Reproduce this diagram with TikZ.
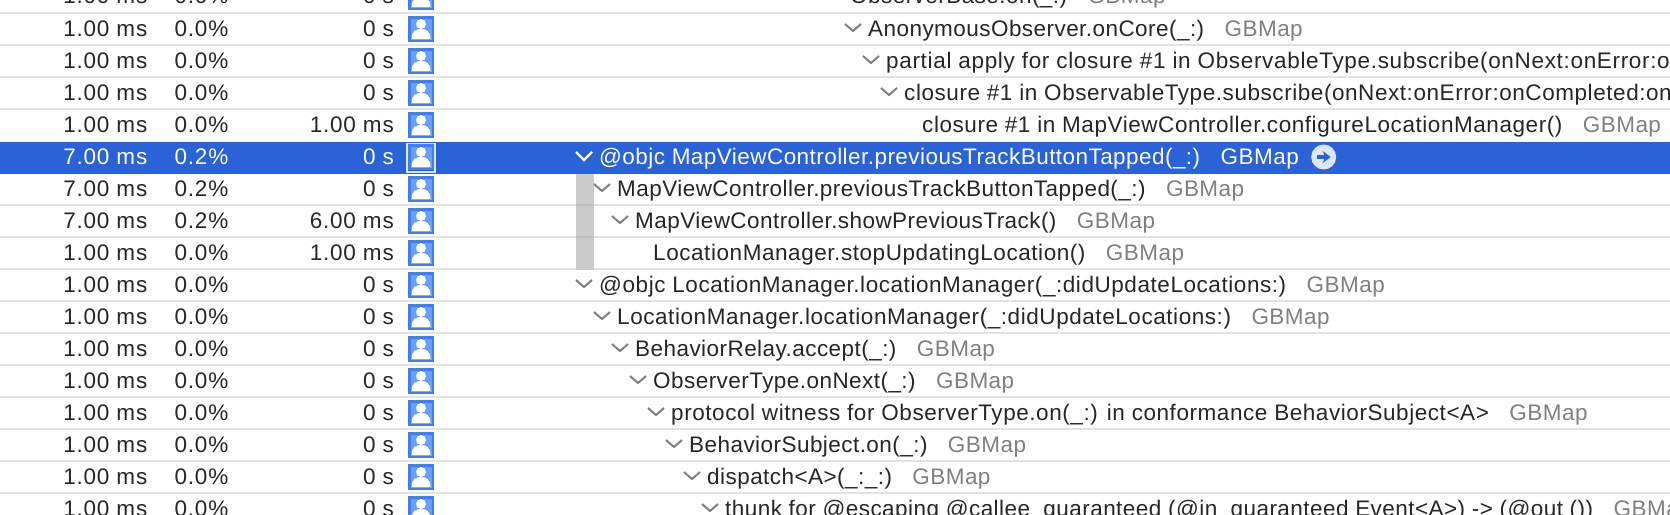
\documentclass[tikz,border=0pt]{standalone}
\usepackage{fontspec}
\setmainfont[LetterSpace=2]{Liberation Sans}
\usepackage{xcolor}
\usetikzlibrary{positioning}
\usetikzlibrary{arrows.meta}
\definecolor{rowsel}{HTML}{2A62D8}
\definecolor{rowline}{HTML}{E3E3E3}
\definecolor{bandgray}{HTML}{CBCBCB}
\definecolor{bandline}{HTML}{BFBFBF}
\definecolor{inkdark}{HTML}{262626}
\definecolor{libgray}{HTML}{808080}
\definecolor{iconblue}{HTML}{3F7DF2}
\definecolor{iconinner}{HTML}{6E9DF8}
\definecolor{iconpale}{HTML}{DCE8FC}

\tikzset{
  num/.style={anchor=base east,inner sep=0pt,text=inkdark,font=\fontsize{22.5}{25}\selectfont\addfontfeature{LetterSpace=3.5}},
  sym/.style={anchor=base west,inner sep=0pt,text=inkdark,font=\fontsize{22.5}{25}\selectfont},
  symwide/.style={sym,font=\fontsize{22.5}{25}\selectfont\addfontfeature{LetterSpace=2.5}},
  symwider/.style={sym,font=\fontsize{22.5}{25}\selectfont\addfontfeature{LetterSpace=3}},
  lib/.style={anchor=base west,inner sep=0pt,text=libgray,font=\fontsize{22.5}{25}\selectfont},
  seprule/.style={rowline,line width=2pt},
  chev/.style={libgray,line width=2pt},
  chevsel/.style={white,line width=2.4pt},
  usericon/.pic={
    \fill[iconblue] (-13,-13) rectangle (13,13);
    \fill[iconinner] (-10.5,-10.5) rectangle (10.5,10.5);
    \fill[white] (0,-5) circle (5);
    \fill[white] (-9.5,10) .. controls (-9.5,2) and (-5,0) .. (0,0) .. controls (5,0) and (9.5,2) .. (9.5,10) -- cycle;
  }
}

\begin{document}
\begin{tikzpicture}[x=1pt,y=-1pt]
  \useasboundingbox (0,0) rectangle (1670,514);
  \clip (0,0) rectangle (1670,514);

  % row rules
  \draw[seprule] (0,12.7) -- (1670,12.7);
  \draw[seprule] (0,44.7) -- (1670,44.7);
  \draw[seprule] (0,76.7) -- (1670,76.7);
  \draw[seprule] (0,108.7) -- (1670,108.7);
  \draw[seprule] (0,204.7) -- (1670,204.7);
  \draw[seprule] (0,236.7) -- (1670,236.7);
  \draw[seprule] (0,268.7) -- (1670,268.7);
  \draw[seprule] (0,300.7) -- (1670,300.7);
  \draw[seprule] (0,332.7) -- (1670,332.7);
  \draw[seprule] (0,364.7) -- (1670,364.7);
  \draw[seprule] (0,396.7) -- (1670,396.7);
  \draw[seprule] (0,428.7) -- (1670,428.7);
  \draw[seprule] (0,460.7) -- (1670,460.7);
  \draw[seprule] (0,492.7) -- (1670,492.7);

  % selection and its gray band
  \fill[rowsel] (0,141.7) rectangle (1670,174);
  \fill[bandgray] (576,174) rectangle (594,270);
  \draw[bandline,line width=2pt] (576,204.7) -- (594,204.7);
  \draw[bandline,line width=2pt] (576,236.7) -- (594,236.7);
  \draw[iconpale,line width=2pt] (407,143.5) rectangle (435,171.5);

  % numbers and icons
  \path (147.5,4) node (ta) [num] {1.00 ms} ++(81,0) node (pa) [num] {0.0\%} ++(165.5,0) node (sa) [num] {0 s} +(27,-7) pic {usericon};
  \path (147.5,36) node (tb) [num] {1.00 ms} ++(81,0) node (pb) [num] {0.0\%} ++(165.5,0) node (sb) [num] {0 s} +(27,-7) pic {usericon};
  \path (147.5,68) node (tc) [num] {1.00 ms} ++(81,0) node (pc) [num] {0.0\%} ++(165.5,0) node (sc) [num] {0 s} +(27,-7) pic {usericon};
  \path (147.5,100) node (td) [num] {1.00 ms} ++(81,0) node (pd) [num] {0.0\%} ++(165.5,0) node (sd) [num] {0 s} +(27,-7) pic {usericon};
  \path (147.5,132) node (te) [num] {1.00 ms} ++(81,0) node (pe) [num] {0.0\%} ++(165.5,0) node (se) [num] {1.00 ms} +(27,-7) pic {usericon};
  \path (147.5,164) node (tf) [num,text=white] {7.00 ms} ++(81,0) node (pf) [num,text=white] {0.2\%} ++(165.5,0) node (sf) [num,text=white] {0 s} +(27,-7) pic {usericon};
  \path (147.5,196) node (tg) [num] {7.00 ms} ++(81,0) node (pg) [num] {0.2\%} ++(165.5,0) node (sg) [num] {0 s} +(27,-7) pic {usericon};
  \path (147.5,228) node (th) [num] {7.00 ms} ++(81,0) node (ph) [num] {0.2\%} ++(165.5,0) node (sh) [num] {6.00 ms} +(27,-7) pic {usericon};
  \path (147.5,260) node (ti) [num] {1.00 ms} ++(81,0) node (pi) [num] {0.0\%} ++(165.5,0) node (si) [num] {1.00 ms} +(27,-7) pic {usericon};
  \path (147.5,292) node (tj) [num] {1.00 ms} ++(81,0) node (pj) [num] {0.0\%} ++(165.5,0) node (sj) [num] {0 s} +(27,-7) pic {usericon};
  \path (147.5,324) node (tk) [num] {1.00 ms} ++(81,0) node (pk) [num] {0.0\%} ++(165.5,0) node (sk) [num] {0 s} +(27,-7) pic {usericon};
  \path (147.5,356) node (tl) [num] {1.00 ms} ++(81,0) node (pl) [num] {0.0\%} ++(165.5,0) node (sl) [num] {0 s} +(27,-7) pic {usericon};
  \path (147.5,388) node (tm) [num] {1.00 ms} ++(81,0) node (pm) [num] {0.0\%} ++(165.5,0) node (sm) [num] {0 s} +(27,-7) pic {usericon};
  \path (147.5,420) node (tn) [num] {1.00 ms} ++(81,0) node (pn) [num] {0.0\%} ++(165.5,0) node (sn) [num] {0 s} +(27,-7) pic {usericon};
  \path (147.5,452) node (to) [num] {1.00 ms} ++(81,0) node (po) [num] {0.0\%} ++(165.5,0) node (so) [num] {0 s} +(27,-7) pic {usericon};
  \path (147.5,484) node (tp) [num] {1.00 ms} ++(81,0) node (pp) [num] {0.0\%} ++(165.5,0) node (sp) [num] {0 s} +(27,-7) pic {usericon};
  \path (147.5,516) node (tq) [num] {1.00 ms} ++(81,0) node (pq) [num] {0.0\%} ++(165.5,0) node (sq) [num] {0 s} +(27,-7) pic {usericon};

  % call tree
  \node (na) [sym] at (850,4) {ObserverBase.on(\_:)};
  \node (ga) [lib,right=20pt of na.base east,anchor=base west] {GBMap};
  \node (nb) [sym] at (868,36) {AnonymousObserver.onCore(\_:)};
  \node (gb) [lib,right=20pt of nb.base east,anchor=base west] {GBMap};
  \node (nc) [symwider] at (886,68) {partial apply for closure \#1 in ObservableType.subscribe(onNext:onError:on};
  \node (nd) [symwide] at (904,100) {closure \#1 in ObservableType.subscribe(onNext:onError:onCompleted:on};
  \node (ne) [symwide] at (922,132) {closure \#1 in MapViewController.configureLocationManager()};
  \node (ge) [lib,right=20pt of ne.base east,anchor=base west] {GBMap};
  \node (nf) [sym,text=white] at (599,164) {@objc MapViewController.previousTrackButtonTapped(\_:)};
  \node (gf) [lib,text=white,right=20pt of nf.base east,anchor=base west] {GBMap};
  \node (ng) [sym] at (617,196) {MapViewController.previousTrackButtonTapped(\_:)};
  \node (gg) [lib,right=20pt of ng.base east,anchor=base west] {GBMap};
  \node (nh) [sym] at (635,228) {MapViewController.showPreviousTrack()};
  \node (gh) [lib,right=20pt of nh.base east,anchor=base west] {GBMap};
  \node (ni) [symwide] at (653,260) {LocationManager.stopUpdatingLocation()};
  \node (gi) [lib,right=20pt of ni.base east,anchor=base west] {GBMap};
  \node (nj) [symwide] at (599,292) {@objc LocationManager.locationManager(\_:didUpdateLocations:)};
  \node (gj) [lib,right=20pt of nj.base east,anchor=base west] {GBMap};
  \node (nk) [symwide] at (617,324) {LocationManager.locationManager(\_:didUpdateLocations:)};
  \node (gk) [lib,right=20pt of nk.base east,anchor=base west] {GBMap};
  \node (nl) [sym] at (635,356) {BehaviorRelay.accept(\_:)};
  \node (gl) [lib,right=20pt of nl.base east,anchor=base west] {GBMap};
  \node (nm) [sym] at (653,388) {ObserverType.onNext(\_:)};
  \node (gm) [lib,right=20pt of nm.base east,anchor=base west] {GBMap};
  \node (nn) [symwide] at (671,420) {protocol witness for ObserverType.on(\_:) in conformance BehaviorSubject<A>};
  \node (gn) [lib,right=20pt of nn.base east,anchor=base west] {GBMap};
  \node (no) [sym] at (689,452) {BehaviorSubject.on(\_:)};
  \node (go) [lib,right=20pt of no.base east,anchor=base west] {GBMap};
  \node (np) [sym] at (707,484) {dispatch<A>(\_:\_:)};
  \node (gp) [lib,right=20pt of np.base east,anchor=base west] {GBMap};
  \node (nq) [sym] at (725,516) {thunk for @escaping @callee\_guaranteed (@in\_guaranteed Event<A>) -> (@out ())};
  \node (gq) [lib,right=20pt of nq.base east,anchor=base west] {GBMap};

  % go-to arrow of the selected row
  \node (goto) [circle,fill=iconpale,minimum size=25pt,inner sep=0pt,right=12pt of gf.base east,anchor=west,yshift=7pt] {};
  \draw[rowsel,line width=3.2pt,-{Stealth[length=8pt,width=12pt]}] ([xshift=-6.5pt]goto.center) -- ([xshift=7pt]goto.center);

  % disclosure chevrons
  \draw[chev] (na.base west) ++(-23,-12) -- ++(8,7) -- ++(8,-7);
  \draw[chev] (nb.base west) ++(-23,-12) -- ++(8,7) -- ++(8,-7);
  \draw[chev] (nc.base west) ++(-23,-12) -- ++(8,7) -- ++(8,-7);
  \draw[chev] (nd.base west) ++(-23,-12) -- ++(8,7) -- ++(8,-7);
  \draw[chevsel] (nf.base west) ++(-23,-12) -- ++(8,8) -- ++(8,-8);
  \draw[chev] (ng.base west) ++(-23,-12) -- ++(8,7) -- ++(8,-7);
  \draw[chev] (nh.base west) ++(-23,-12) -- ++(8,7) -- ++(8,-7);
  \draw[chev] (nj.base west) ++(-23,-12) -- ++(8,7) -- ++(8,-7);
  \draw[chev] (nk.base west) ++(-23,-12) -- ++(8,7) -- ++(8,-7);
  \draw[chev] (nl.base west) ++(-23,-12) -- ++(8,7) -- ++(8,-7);
  \draw[chev] (nm.base west) ++(-23,-12) -- ++(8,7) -- ++(8,-7);
  \draw[chev] (nn.base west) ++(-23,-12) -- ++(8,7) -- ++(8,-7);
  \draw[chev] (no.base west) ++(-23,-12) -- ++(8,7) -- ++(8,-7);
  \draw[chev] (np.base west) ++(-23,-12) -- ++(8,7) -- ++(8,-7);
  \draw[chev] (nq.base west) ++(-23,-12) -- ++(8,7) -- ++(8,-7);
\end{tikzpicture}
\end{document}
